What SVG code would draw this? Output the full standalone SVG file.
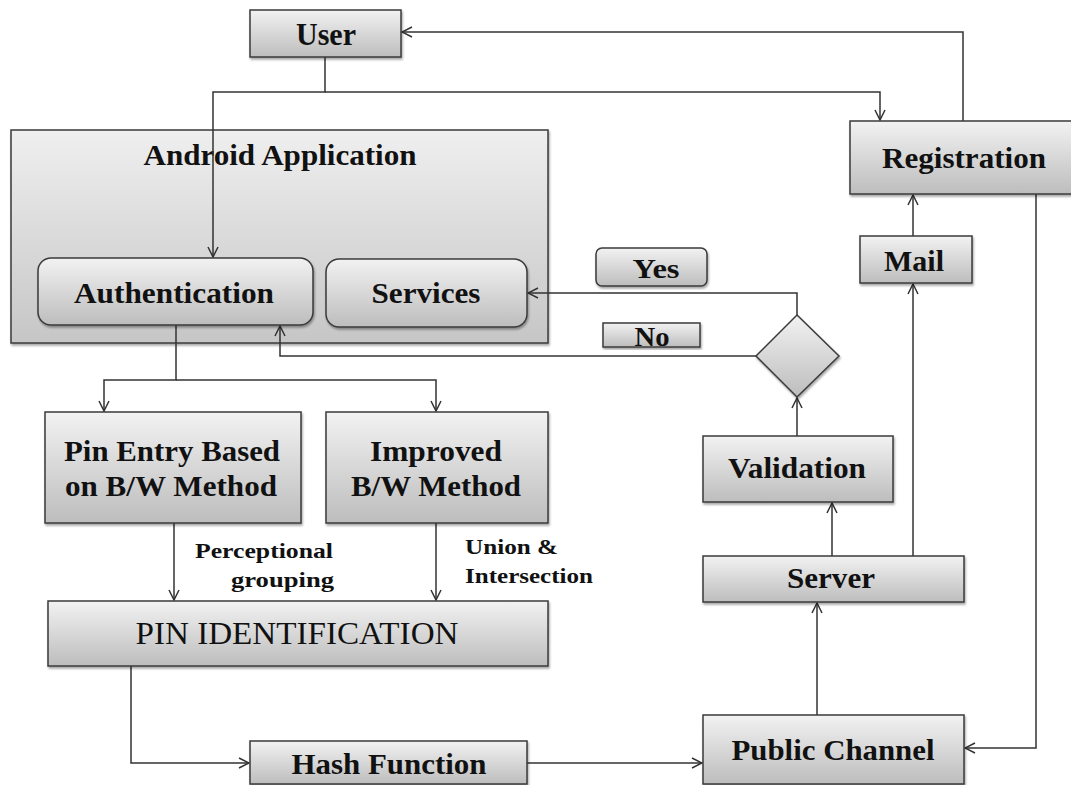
<svg xmlns="http://www.w3.org/2000/svg" width="1071" height="785" viewBox="0 0 1071 785">
<defs>
<linearGradient id="g" x1="0" y1="0" x2="0" y2="1">
<stop offset="0" stop-color="#f2f2f2"/>
<stop offset="1" stop-color="#bdbdbd"/>
</linearGradient>
<linearGradient id="gb" x1="0" y1="0" x2="0" y2="1">
<stop offset="0" stop-color="#efefef"/>
<stop offset="1" stop-color="#c6c6c6"/>
</linearGradient>
<filter id="sh" x="-5%" y="-5%" width="110%" height="115%">
<feDropShadow dx="1" dy="2" stdDeviation="1.2" flood-color="#000" flood-opacity="0.35"/>
</filter>
<marker id="ar" markerWidth="12" markerHeight="12" viewBox="0 0 12 12" refX="11" refY="6" orient="auto" markerUnits="userSpaceOnUse">
<path d="M1,1 L11,6 L1,11" fill="none" stroke="#333" stroke-width="1.5"/>
</marker>
</defs>
<style>
.box{fill:url(#g);stroke:#3a3a3a;stroke-width:1.5;filter:url(#sh)}
.big{fill:url(#gb);stroke:#3a3a3a;stroke-width:1.5;filter:url(#sh)}
.t{font-family:"Liberation Serif","Times New Roman",serif;font-weight:bold;fill:#111;text-anchor:middle}
.l{font-family:"Liberation Serif","Times New Roman",serif;font-weight:bold;fill:#111}
.c{fill:none;stroke:#333;stroke-width:1.5}
</style>
<rect width="1071" height="785" fill="#fff"/>

<g id="android-app">
<rect class="big" x="11" y="130" width="537" height="213"/>
<text class="t" x="280" y="165" font-size="29" textLength="273" lengthAdjust="spacingAndGlyphs">Android Application</text>
</g>

<g id="connectors">
<polyline class="c" points="325,57 325,92 213,92 213,257" marker-end="url(#ar)"/>
<polyline class="c" points="325,92 880,92 880,120" marker-end="url(#ar)"/>
<polyline class="c" points="963,121 963,32 402,32" marker-end="url(#ar)"/>
<polyline class="c" points="913,236 913,195" marker-end="url(#ar)"/>
<polyline class="c" points="913,556 913,284" marker-end="url(#ar)"/>
<polyline class="c" points="1036,194 1036,748 965,748" marker-end="url(#ar)"/>
<polyline class="c" points="797,315 797,293 528,293" marker-end="url(#ar)"/>
<polyline class="c" points="756,356 280,356 280,326" marker-end="url(#ar)"/>
<polyline class="c" points="176,325 176,380 104,380 104,411" marker-end="url(#ar)"/>
<polyline class="c" points="176,380 436,380 436,411" marker-end="url(#ar)"/>
<polyline class="c" points="174,523 174,600" marker-end="url(#ar)"/>
<polyline class="c" points="436,523 436,600" marker-end="url(#ar)"/>
<polyline class="c" points="131,666 131,763 249,763" marker-end="url(#ar)"/>
<polyline class="c" points="527,763 702,763" marker-end="url(#ar)"/>
<polyline class="c" points="817,715 817,603" marker-end="url(#ar)"/>
<polyline class="c" points="832,556 832,503" marker-end="url(#ar)"/>
<polyline class="c" points="797,436 797,398" marker-end="url(#ar)"/>
</g>

<g id="user">
<rect class="box" x="250" y="10" width="151" height="47"/>
<text class="t" x="326" y="45" font-size="31" textLength="60" lengthAdjust="spacingAndGlyphs">User</text>
</g>

<g id="authentication">
<rect class="box" x="38" y="258" width="275" height="67" rx="13"/>
<text class="t" x="174" y="303" font-size="30" textLength="200" lengthAdjust="spacingAndGlyphs">Authentication</text>
</g>

<g id="services">
<rect class="box" x="326" y="259" width="201" height="68" rx="13"/>
<text class="t" x="426" y="303" font-size="30" textLength="109" lengthAdjust="spacingAndGlyphs">Services</text>
</g>

<g id="registration">
<rect class="box" x="850" y="121" width="225" height="73"/>
<text class="t" x="964" y="168" font-size="30" textLength="164" lengthAdjust="spacingAndGlyphs">Registration</text>
</g>

<g id="mail">
<rect class="box" x="860" y="236" width="112" height="47"/>
<text class="t" x="914" y="271" font-size="30" textLength="60" lengthAdjust="spacingAndGlyphs">Mail</text>
</g>

<g id="yes">
<rect class="box" x="596" y="248" width="111" height="38" rx="6"/>
<text class="t" x="656" y="278" font-size="28" textLength="47" lengthAdjust="spacingAndGlyphs">Yes</text>
</g>

<g id="no">
<rect class="box" x="603" y="323" width="97" height="24"/>
<text class="t" x="652" y="346" font-size="28" textLength="35" lengthAdjust="spacingAndGlyphs">No</text>
</g>

<g id="decision">
<polygon class="box" points="797,315 839,356 797,397 756,356"/>
</g>

<g id="pin-entry">
<rect class="box" x="45" y="412" width="256" height="111"/>
<text class="t" x="172" y="461" font-size="29" textLength="216" lengthAdjust="spacingAndGlyphs">Pin Entry Based</text>
<text class="t" x="171" y="496" font-size="29" textLength="212" lengthAdjust="spacingAndGlyphs">on B/W Method</text>
</g>

<g id="improved">
<rect class="box" x="326" y="412" width="222" height="111"/>
<text class="t" x="436" y="461" font-size="29" textLength="132" lengthAdjust="spacingAndGlyphs">Improved</text>
<text class="t" x="436" y="496" font-size="29" textLength="170" lengthAdjust="spacingAndGlyphs">B/W Method</text>
</g>

<g id="label-perceptional">
<text class="l" x="195" y="558" font-size="21" textLength="138" lengthAdjust="spacingAndGlyphs">Perceptional</text>
<text class="l" x="231" y="587" font-size="21" textLength="103" lengthAdjust="spacingAndGlyphs">grouping</text>
</g>

<g id="label-union">
<text class="l" x="465" y="554" font-size="21" textLength="93" lengthAdjust="spacingAndGlyphs">Union &amp;</text>
<text class="l" x="465" y="583" font-size="21" textLength="128" lengthAdjust="spacingAndGlyphs">Intersection</text>
</g>

<g id="pin-identification">
<rect class="box" x="48" y="601" width="500" height="65"/>
<text class="t" x="297" y="644" font-size="31" style="font-weight:normal" textLength="323" lengthAdjust="spacingAndGlyphs">PIN IDENTIFICATION</text>
</g>

<g id="hash-function">
<rect class="box" x="250" y="741" width="277" height="43"/>
<text class="t" x="389" y="774" font-size="29" textLength="195" lengthAdjust="spacingAndGlyphs">Hash Function</text>
</g>

<g id="public-channel">
<rect class="box" x="703" y="715" width="261" height="69"/>
<text class="t" x="833" y="760" font-size="30" textLength="203" lengthAdjust="spacingAndGlyphs">Public Channel</text>
</g>

<g id="server">
<rect class="box" x="703" y="556" width="261" height="46"/>
<text class="t" x="831" y="588" font-size="29" textLength="88" lengthAdjust="spacingAndGlyphs">Server</text>
</g>

<g id="validation">
<rect class="box" x="703" y="436" width="190" height="66"/>
<text class="t" x="797" y="478" font-size="29" textLength="138" lengthAdjust="spacingAndGlyphs">Validation</text>
</g>
</svg>
